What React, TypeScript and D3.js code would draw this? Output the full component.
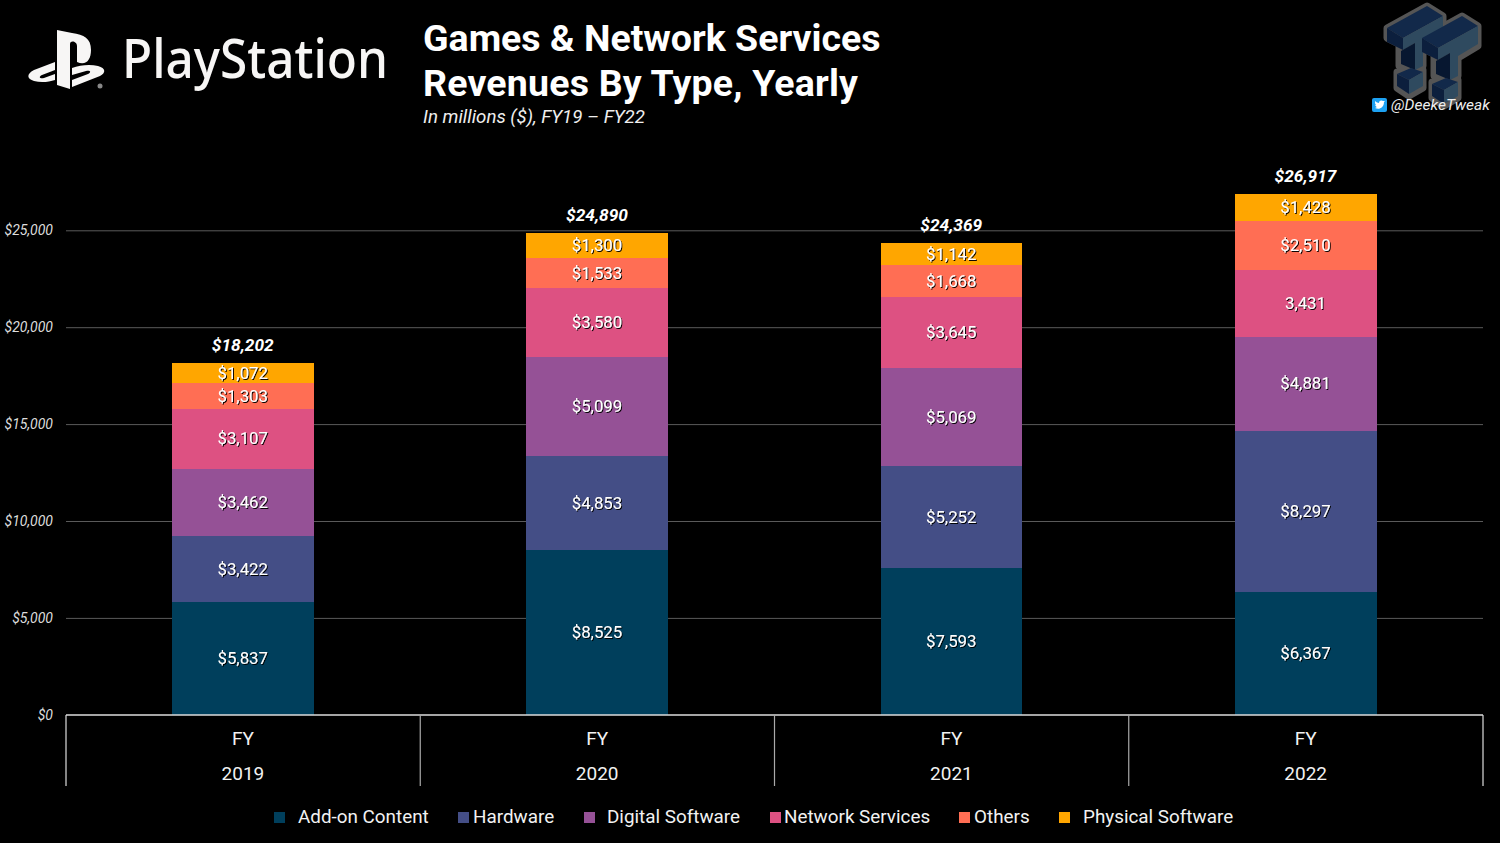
import React from "react";
import * as d3 from "d3";

const years = ["2019", "2020", "2021", "2022"];
const seriesNames = ["Add-on Content", "Hardware", "Digital Software", "Network Services", "Others", "Physical Software"];
const seriesColors = ["#003f5c", "#444e86", "#955196", "#dd5182", "#ff6e54", "#ffa600"];
const addOn = [5837, 8525, 7593, 6367];
const hardware = [3422, 4853, 5252, 8297];
const digital = [3462, 5099, 5069, 4881];
const network = [3107, 3580, 3645, 3431];
const others = [1303, 1533, 1668, 2510];
const physical = [1072, 1300, 1142, 1428];
const totals = [18202, 24890, 24369, 26917];
const yTicks = [0, 5000, 10000, 15000, 20000, 25000];
const plainLabels = new Set(["2022|Network Services"]);
const legendSquares = [274, 458, 584, 770, 959, 1059];
const legendTexts = [298, 473, 607, 784, 974, 1083];

const W = 1500, H = 843;
const F = "Roboto, sans-serif";
const allSeries = [addOn, hardware, digital, network, others, physical];
const rows = years.map((year, i) => {
  const row: any = { year };
  seriesNames.forEach((n, k) => (row[n] = allSeries[k][i]));
  return row;
});
const stacked = d3.stack<any>().keys(seriesNames)(rows);
const y = d3.scaleLinear().domain([0, 25000]).range([715.3, 230.8]);
const x = d3.scaleBand().domain(years).range([66, 1483]).paddingInner(0).paddingOuter(0);
const barW = x.bandwidth() * 0.4;
const money = (v: number) => "$" + d3.format(",")(v);

function PSLogo() {
  return (
    <g fill="#f7f6f5">
      <path d="M57 30 L57 85 L70 89 L70 44 C70 40 77 41 77 46 L77 62 C86 66 91 60 91 50 C91 38 84 35 72 33 Z" />
      <path d="M55 62 L34 70 C26 74 27 79 34 81 C41 83 49 82 55 80 L55 74 L44 78 C40 79 38 77 42 75 L55 70 Z" />
      <path d="M72 87 L72 80 L88 74 C92 72 90 70 86 71 L72 75 L72 68 C80 65 90 64 98 66 C106 68 106 73 100 76 Z" />
      <circle cx="100" cy="86" r="2.5" fill="#888" />
    </g>
  );
}

const tOutline = "M0 22 L40 0 L56 10 L56 30 L36 42 L36 60 L22 68 L12 60 L12 38 L0 32 Z M10 66 L22 72 L36 64 L36 82 L22 90 L10 82 Z";

function TTLogo() {
  const offs = [[1387, 6], [1422, 16]];
  const T = (dx: number, dy: number) => (
    <g transform={`translate(${dx},${dy})`}>
      <path d="M0 22 L40 0 L56 10 L16 32 Z" fill="#12294a" />
      <path d="M16 32 L56 10 L56 28 L36 40 L36 60 L28 64 L28 37 L16 44 Z" fill="#2f4a5f" />
      <path d="M0 22 L16 32 L16 44 L0 36 Z" fill="#0c1f3d" />
      <path d="M28 37 L28 64 L14 58 L14 45 Z" fill="#071730" />
      <path d="M10 68 L22 74 L36 66 L24 62 Z" fill="#12294a" />
      <path d="M22 74 L36 66 L36 80 L22 88 Z" fill="#2f4a5f" />
      <path d="M10 68 L22 74 L22 88 L10 80 Z" fill="#0c1f3d" />
    </g>
  );
  return (
    <g>
      {offs.map(([a, b], i) => (
        <path key={i} transform={`translate(${a},${b})`} d={tOutline} fill="#555" stroke="#555" strokeWidth={7} strokeLinejoin="round" />
      ))}
      {offs.map(([a, b], i) => (
        <g key={i}>{T(a, b)}</g>
      ))}
    </g>
  );
}

export default function App() {
  return (
    <svg width={W} height={H} viewBox={`0 0 ${W} ${H}`} style={{ position: "fixed", left: 0, top: 0, background: "#000" }}>
      <defs>
        <filter id="ts" x="-20%" y="-30%" width="140%" height="160%">
          <feDropShadow dx="1" dy="1" stdDeviation="0.7" floodColor="#000" floodOpacity="0.95" />
        </filter>
      </defs>
      <rect width={W} height={H} fill="#000" />

      <PSLogo />
      <text x={122} y={78} fontFamily="'Noto Sans', sans-serif" fontWeight={500} fontSize={55} fill="#f7f6f5" textLength={266} lengthAdjust="spacingAndGlyphs">PlayStation</text>

      <text x={423} y={51} fontFamily={F} fontWeight={700} fontSize={37.5} fill="#fff">Games &amp; Network Services</text>
      <text x={423} y={96} fontFamily={F} fontWeight={700} fontSize={37.5} fill="#fff" textLength={435} lengthAdjust="spacing">Revenues By Type, Yearly</text>
      <text x={423} y={122.5} fontFamily={F} fontStyle="italic" fontSize={18.7} fill="#eee">In millions ($), FY19 – FY22</text>

      <TTLogo />
      <rect x={1372} y={98} width={15} height={14} rx={2} fill="#1da1f2" />
      <path d="M1375 108 C1379 110 1384 108 1384 102 L1385 101 L1383 101 C1382 100 1379 100 1379 103 C1378 103 1376 102 1375 101 C1375 103 1375 104 1376 105 L1375 105 C1376 106 1376 107 1377 107 Z" fill="#fff" />
      <text x={1391} y={110} fontFamily={F} fontStyle="italic" fontSize={15.5} letterSpacing={0.05} fill="#eee">@DeekeTweak</text>

      {yTicks.map((t) => (
        <g key={t}>
          {t > 0 && <line x1={66} x2={1483} y1={y(t)} y2={y(t)} stroke="#5a5a5a" strokeWidth={1} />}
          <text x={53} y={y(t) + 4.5} textAnchor="end" fontFamily={F} fontStyle="italic" fontSize={14} fill="#ddd">{money(t)}</text>
        </g>
      ))}

      {stacked.map((s, k) => (
        <g key={s.key}>
          {s.map((d, i) => {
            const bx = x(years[i])! + (x.bandwidth() - barW) / 2 - 0.2;
            return <rect key={i} x={bx} width={barW} y={y(d[1])} height={y(d[0]) - y(d[1])} fill={seriesColors[k]} shapeRendering="crispEdges" />;
          })}
        </g>
      ))}
      {stacked.map((s) => (
        <g key={s.key} filter="url(#ts)">
          {s.map((d, i) => {
            const cx = x(years[i])! + x.bandwidth() / 2 - 0.4;
            const v = d[1] - d[0];
            const txt = plainLabels.has(`${years[i]}|${s.key}`) ? d3.format(",")(v) : money(v);
            return (
              <text key={i} x={cx} y={y((d[0] + d[1]) / 2) + 5.6} textAnchor="middle" fontFamily={F} fontSize={16.8} fill="#fff">{txt}</text>
            );
          })}
        </g>
      ))}
      {totals.map((t, i) => (
        <text key={i} x={x(years[i])! + x.bandwidth() / 2 - 0.4} y={y(d3.sum(allSeries, (a) => a[i])) - 12} textAnchor="middle" fontWeight={700} fontFamily={F} fontStyle="italic" fontSize={17.3} fill="#fff">{money(t)}</text>
      ))}

      <line x1={66} x2={1483} y1={715} y2={715} stroke="#ddd" strokeWidth={1.3} />
      {[...years.map((yr) => x(yr)!), 1483].map((px, i) => (
        <line key={i} x1={px} x2={px} y1={715} y2={786} stroke={i === 0 || i === 4 ? "#ddd" : "#aaa"} strokeWidth={1.2} />
      ))}
      {years.map((yr) => (
        <g key={yr} fontFamily={F} fontSize={19} fill="#f2f2f2" textAnchor="middle">
          <text x={x(yr)! + x.bandwidth() / 2 - 0.2} y={745}>FY</text>
          <text x={x(yr)! + x.bandwidth() / 2 - 0.2} y={780}>{yr}</text>
        </g>
      ))}

      {seriesNames.map((n, k) => (
        <g key={n}>
          <rect x={legendSquares[k]} y={812} width={11} height={11} fill={seriesColors[k]} />
          <text x={legendTexts[k]} y={823} fontFamily={F} fontSize={18.85} fill="#f2f2f2">{n}</text>
        </g>
      ))}
    </svg>
  );
}
